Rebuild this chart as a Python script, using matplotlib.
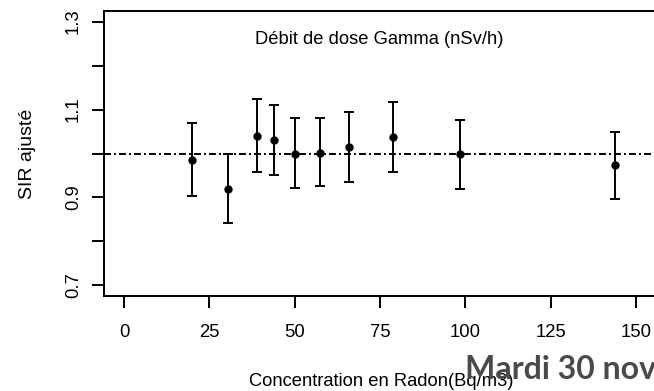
import numpy as np
import matplotlib
matplotlib.use("Agg")
import matplotlib.pyplot as plt

plt.rcParams["font.family"] = ["Liberation Sans", "DejaVu Sans"]
plt.rcParams["lines.scale_dashes"] = False

# Data
radon = [20.0, 30.5, 39.0, 44.0, 50.1, 57.4, 66.0, 78.7, 98.3, 143.9]
sir = [0.986, 0.920, 1.039, 1.030, 1.000, 1.002, 1.015, 1.037, 0.998, 0.973]
sir_hi = [1.069, 0.998, 1.123, 1.110, 1.080, 1.081, 1.095, 1.118, 1.076, 1.050]
sir_lo = [0.904, 0.842, 0.957, 0.951, 0.921, 0.926, 0.935, 0.957, 0.919, 0.896]
xticks = [0, 25, 50, 75, 100, 125, 150]
yticks = [0.7, 0.8, 0.9, 1.0, 1.1, 1.2, 1.3]
ylabels = ["0.7", "", "0.9", "", "1.1", "", "1.3"]

radon = np.array(radon)
sir = np.array(sir)
yerr = [sir - np.array(sir_lo), np.array(sir_hi) - sir]

W, H = 654, 391
fig = plt.figure(figsize=(W / 100, H / 100), dpi=100)
ax = fig.add_axes([103.5 / W, 95 / H, 553.2 / W, 285 / H])

ax.axhline(1.0, color="black", lw=1.4, dashes=(5, 2.2, 1.4, 2.2), zorder=1)
ax.errorbar(radon, sir, yerr=yerr, fmt="o", color="black", ms=5,
            elinewidth=1.4, capsize=3.6, capthick=1.4, zorder=2)

ax.set_xlim(-6, 156)
ax.set_ylim(0.676, 1.324)
ax.set_xticks(xticks)
ax.set_yticks(yticks)
ax.set_yticklabels(ylabels, rotation=90, va="center")
ax.tick_params(axis="both", direction="out", length=8.5, width=1.4, labelsize=13.3)
ax.tick_params(axis="x", pad=12)
ax.tick_params(axis="y", pad=7)
for s in ax.spines.values():
    s.set_linewidth(1.4)

# titles / labels placed in figure pixels, R-style
fig.text(379 / W, 1 - 40 / H, "Débit de dose Gamma (nSv/h)",
         ha="center", va="center", fontsize=13.2)
fig.text(381 / W, 1 - 381 / H, "Concentration en Radon(Bq/m3)",
         ha="center", va="center", fontsize=13.2)
fig.text(27.5 / W, 1 - 153.5 / H, "SIR ajusté", rotation=90,
         ha="center", va="center", fontsize=14)

# slide date overlay, cut at the right edge as in the source
fig.text(465 / W, 1 - 379 / H, "Mardi 30 nov", color="#4a4a4a",
         fontsize=23, fontweight="bold", family="Lato", va="baseline")

fig.savefig("out.png", dpi=100)
